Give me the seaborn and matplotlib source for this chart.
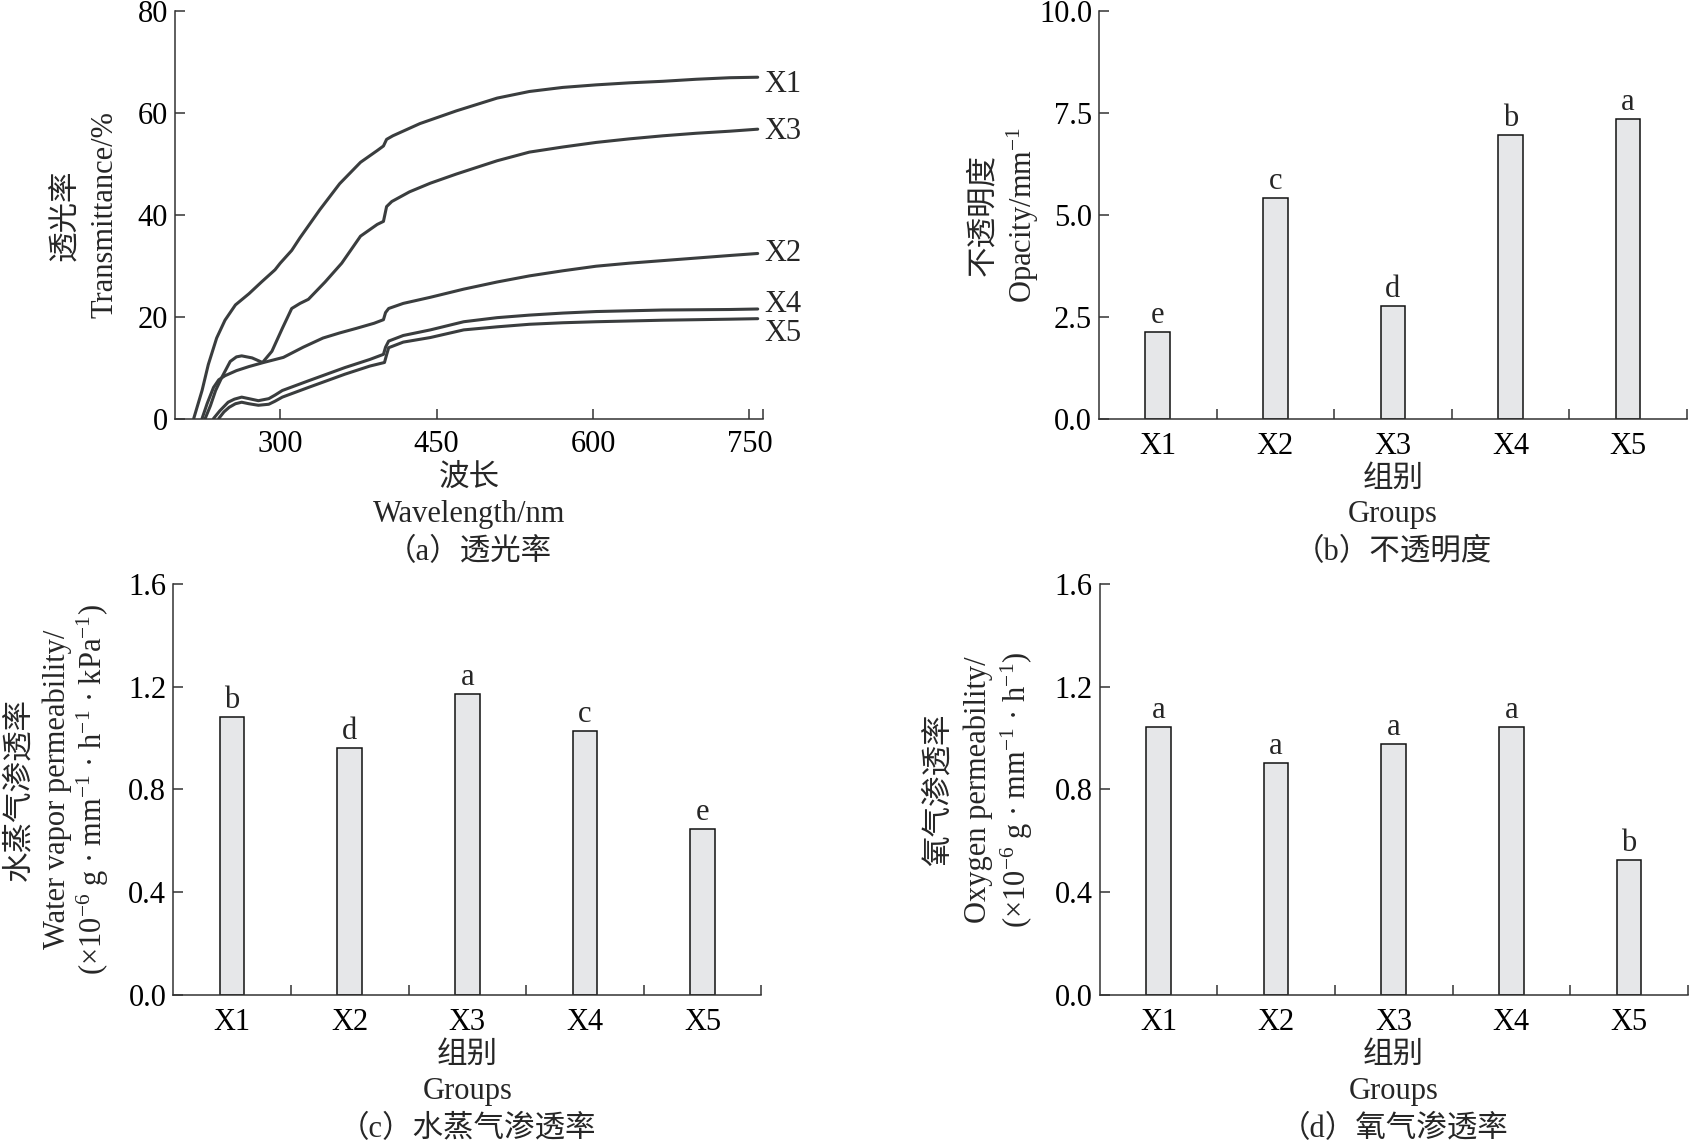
import matplotlib
matplotlib.use("Agg")
import matplotlib.pyplot as plt
import seaborn as sns
import pandas as pd
from matplotlib.ticker import FormatStrFormatter

# ---------------- data ----------------
curve_names = ["X1", "X2", "X3", "X4", "X5"]

x1_nm = [217, 225, 231, 239, 247, 257, 270, 282, 295, 300, 311, 319, 338, 357, 377, 393, 399, 402, 408,
         434, 469, 508, 539, 571, 603, 635, 667, 699, 731, 758]
x1_t = [0, 5.5, 10.6, 15.8, 19.3, 22.3, 24.5, 26.8, 29.2, 30.5, 33.0, 35.5, 41.0, 46.1, 50.3, 52.6, 53.5, 54.8, 55.5,
        57.9, 60.4, 62.9, 64.2, 65.0, 65.5, 65.9, 66.2, 66.6, 66.9, 67.0]

x2_nm = [225, 230, 236, 241, 247, 258, 270, 284, 303, 322, 341, 357, 373, 390, 399, 401, 404, 418, 444, 476,
         508, 539, 571, 603, 635, 667, 699, 731, 758]
x2_t = [0, 3.0, 6.1, 7.6, 8.4, 9.4, 10.2, 11.0, 12.0, 14.0, 15.8, 16.8, 17.7, 18.7, 19.4, 20.8, 21.6, 22.6, 23.8, 25.4,
        26.8, 28.0, 29.0, 29.9, 30.5, 31.0, 31.5, 32.0, 32.4]

x3_nm = [228, 233, 238, 244, 252, 258, 263, 273, 283, 292, 302, 311, 319, 327, 343, 359, 377, 393, 399,
         402, 407, 424, 444, 469, 508, 539, 571, 603, 635, 667, 699, 731, 758]
x3_t = [0, 2.5, 5.5, 8.1, 11.2, 12.1, 12.3, 11.9, 11.0, 13.2, 17.7, 21.6, 22.6, 23.4, 26.8, 30.5, 35.8, 38.1, 38.7,
        41.6, 42.6, 44.5, 46.2, 48.0, 50.6, 52.3, 53.3, 54.2, 54.9, 55.5, 56.0, 56.4, 56.8]

x4_nm = [236, 242, 250, 256, 263, 270, 279, 289, 295, 302, 327, 362, 386, 399, 401, 404, 418, 444, 476, 508,
         539, 571, 603, 667, 731, 758]
x4_t = [0, 1.5, 3.2, 3.8, 4.2, 3.9, 3.5, 3.9, 4.6, 5.5, 7.4, 10.0, 11.6, 12.6, 14.0, 15.2, 16.3, 17.4, 19.0, 19.8,
        20.3, 20.7, 21.0, 21.3, 21.4, 21.5]

x5_nm = [241, 246, 251, 257, 263, 270, 279, 289, 295, 302, 327, 362, 386, 400, 402, 404, 418, 444, 476, 508,
         539, 571, 603, 667, 731, 758]
x5_t = [0, 1.3, 2.2, 2.9, 3.2, 2.9, 2.6, 2.8, 3.4, 4.2, 6.1, 8.7, 10.3, 11.0, 12.5, 13.9, 15.0, 15.9, 17.4, 18.0,
        18.5, 18.8, 19.0, 19.3, 19.5, 19.6]

wave_ticks = [300, 450, 600, 750]

groups = ["X1", "X2", "X3", "X4", "X5"]
opacity = [2.12, 5.42, 2.77, 6.96, 7.37]
opacity_letters = ["e", "c", "d", "b", "a"]
wvp = [1.084, 0.962, 1.172, 1.026, 0.647]
wvp_letters = ["b", "d", "a", "c", "e"]
oxy = [1.045, 0.902, 0.978, 1.045, 0.525]
oxy_letters = ["a", "a", "a", "a", "b"]

# ---------------- style ----------------
sns.set_style("ticks")
plt.rcParams["font.family"] = ["Liberation Serif", "Noto Sans CJK SC"]
plt.rcParams["mathtext.fontset"] = "custom"
plt.rcParams["mathtext.rm"] = "Liberation Serif"
plt.rcParams["mathtext.it"] = "Liberation Serif:italic"
plt.rcParams["axes.unicode_minus"] = True

FS = 22
AX_COLOR = "#333333"
LINE_COLOR = "#3a3d3e"
BAR_FILL = "#e6e7e9"

fig = plt.figure(figsize=(16.92, 11.46), dpi=100)
axA = fig.add_axes([0.1034, 0.6348, 0.3475, 0.3556])
axB = fig.add_axes([0.6495, 0.6346, 0.3475, 0.3554])
axC = fig.add_axes([0.1024, 0.1318, 0.3476, 0.3586])
axD = fig.add_axes([0.6499, 0.1318, 0.3476, 0.3586])


def base_style(ax):
    for s in ["top", "right"]:
        ax.spines[s].set_visible(False)
    for s in ["left", "bottom"]:
        ax.spines[s].set_color(AX_COLOR)
        ax.spines[s].set_linewidth(1.1)
    ax.tick_params(which="both", direction="in", length=7, width=1.1, color=AX_COLOR,
                   labelsize=FS, labelcolor="black", pad=5)
    ax.grid(False)
    ax.set_xlabel("")
    ax.set_ylabel("")


def below(ax, text, off):
    ax.annotate(text, xy=(0.5, 0), xycoords="axes fraction", xytext=(0, -off),
                textcoords="offset pixels", ha="center", va="center", fontsize=FS)


def side(ax, text, off):
    ax.annotate(text, xy=(0, 0.5), xycoords="axes fraction", xytext=(-off, 0),
                textcoords="offset pixels", ha="center", va="center", fontsize=FS,
                rotation=90)


# ---------------- (a) transmittance ----------------
curves = [(x1_nm, x1_t), (x2_nm, x2_t), (x3_nm, x3_t), (x4_nm, x4_t), (x5_nm, x5_t)]
frames = []
for name, (xs, ys) in zip(curve_names, curves):
    frames.append(pd.DataFrame({"nm": xs, "T": ys, "curve": name}))
dfA = pd.concat(frames, ignore_index=True)
sns.lineplot(data=dfA, x="nm", y="T", hue="curve", palette=[LINE_COLOR] * 5,
             estimator=None, sort=False, legend=False, linewidth=2.2, ax=axA)
base_style(axA)
axA.tick_params(axis="x", pad=8.5)
axA.set_xlim(199, 763)
axA.set_ylim(0, 80)
axA.set_xticks(wave_ticks)
axA.set_xticks([763], minor=True)
axA.set_yticks([0, 20, 40, 60, 80])
label_shift = {"X1": -1.4, "X2": 0.0, "X3": -0.5, "X4": 0.9, "X5": -3.0}
for name, (xs, ys) in zip(curve_names, curves):
    axA.text(764.5, ys[-1] + label_shift[name], name, ha="left", va="center",
             fontsize=FS, clip_on=False)
side(axA, "透光率", 108)
side(axA, "Transmittance/%", 70)
below(axA, "波长", 60)
below(axA, "Wavelength/nm", 96)
below(axA, "（a）透光率", 134)


# ---------------- bar panels ----------------
def bar_panel(ax, values, letters, ymax, yticks, fmt):
    df = pd.DataFrame({"group": groups, "value": values})
    sns.barplot(data=df, x="group", y="value", color=BAR_FILL, saturation=1,
                edgecolor="#111111", linewidth=1.1, width=0.21, ax=ax)
    base_style(ax)
    ax.set_xlim(-0.5, 4.5)
    ax.set_ylim(0, ymax)
    ax.set_yticks(yticks)
    ax.yaxis.set_major_formatter(FormatStrFormatter(fmt))
    ax.set_xticks([0.5, 1.5, 2.5, 3.5, 4.5], minor=True)
    ax.tick_params(axis="x", which="major", length=0, pad=9.5)
    for patch, letter in zip(ax.patches, letters):
        xc = patch.get_x() + patch.get_width() / 2
        ax.annotate(letter, (xc, patch.get_height()), xytext=(0, 9),
                    textcoords="offset pixels", ha="center", va="baseline", fontsize=FS)


bar_panel(axB, opacity, opacity_letters, 10, [0, 2.5, 5.0, 7.5, 10.0], "%.1f")
side(axB, "不透明度", 115)
side(axB, "Opacity/mm$^{-1}$", 76)
below(axB, "组别", 61)
below(axB, "Groups", 96)
below(axB, "（b）不透明度", 134)

bar_panel(axC, wvp, wvp_letters, 1.6, [0, 0.4, 0.8, 1.2, 1.6], "%.1f")
side(axC, "水蒸气渗透率", 154)
side(axC, "Water vapor permeability/", 116)
side(axC, "(×10$^{-6}$ g · mm$^{-1}$ · h$^{-1}$ · kPa$^{-1}$)", 80)
below(axC, "组别", 60)
below(axC, "Groups", 97)
below(axC, "（c）水蒸气渗透率", 135)

bar_panel(axD, oxy, oxy_letters, 1.6, [0, 0.4, 0.8, 1.2, 1.6], "%.1f")
side(axD, "氧气渗透率", 161)
side(axD, "Oxygen permeability/", 121)
side(axD, "(×10$^{-6}$ g · mm$^{-1}$ · h$^{-1}$)", 83)
below(axD, "组别", 60)
below(axD, "Groups", 97)
below(axD, "（d）氧气渗透率", 135)

fig.savefig("out.png", dpi=100, facecolor="white")
